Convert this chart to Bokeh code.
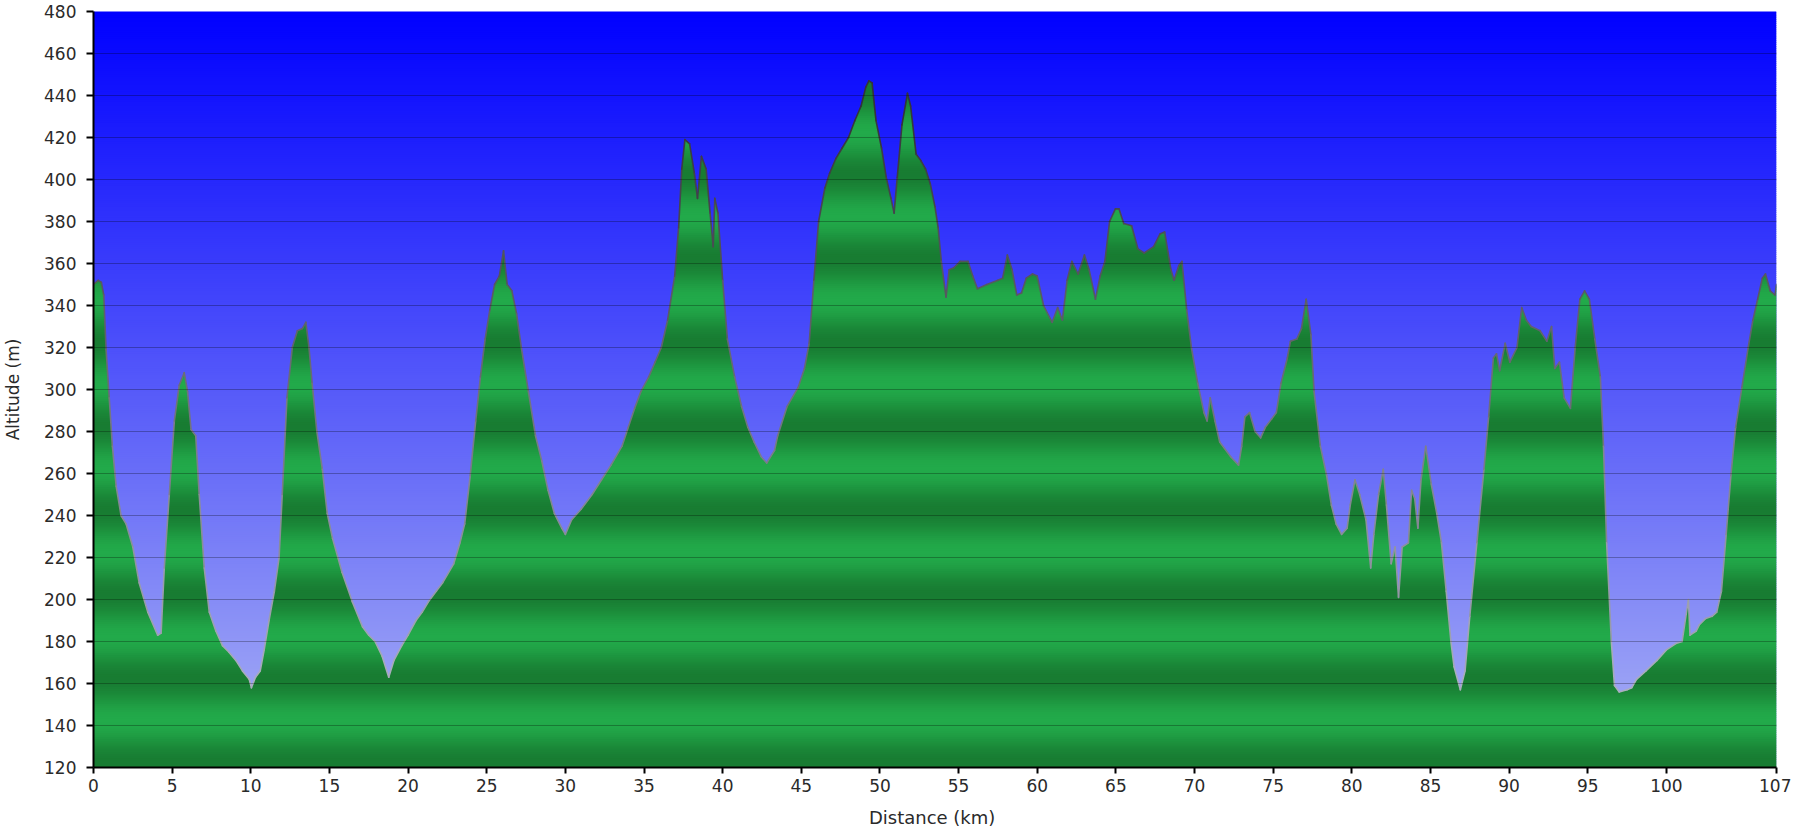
import math
from bokeh.plotting import figure
from bokeh.models import Range1d, FixedTicker
from bokeh.embed import file_html
from bokeh.resources import INLINE

# ---------------- data ----------------
distance_km = [
    0.0, 0.3, 0.5, 0.65, 0.8, 1.0, 1.2, 1.44, 1.75, 2.07, 2.5, 2.9, 3.45, 4.08, 4.3,
    4.5, 4.82, 5.14, 5.45, 5.77, 5.98, 6.2, 6.5, 6.72, 7.04, 7.36, 7.78, 8.2, 8.6,
    9.05, 9.47, 9.9, 10.04, 10.3, 10.6, 10.85, 11.16, 11.5, 11.8, 12.0, 12.3, 12.64,
    12.96, 13.28, 13.5, 13.7, 13.9, 14.2, 14.55, 14.86, 15.2, 15.8, 16.45, 17.1, 17.5,
    17.9, 18.35, 18.77, 19.1, 19.6, 20.0, 20.5, 20.9, 21.3, 21.8, 22.2, 22.9, 23.3,
    23.6, 23.95, 24.3, 24.6, 24.9, 25.2, 25.5, 25.8, 26.07, 26.3, 26.6, 26.9, 27.2,
    27.65, 28.1, 28.5, 28.9, 29.3, 29.77, 30.0, 30.4, 31.0, 31.7, 32.3, 32.9, 33.6,
    34.0, 34.4, 34.8, 35.3, 35.7, 36.1, 36.5, 36.95, 37.2, 37.4, 37.6, 37.9, 38.2,
    38.4, 38.65, 38.95, 39.2, 39.4, 39.5, 39.7, 40.0, 40.3, 40.76, 41.2, 41.6, 42.0,
    42.45, 42.8, 43.3, 43.5, 44.1, 44.8, 45.2, 45.5, 45.8, 46.1, 46.5, 46.8, 47.2,
    47.6, 48.0, 48.4, 48.8, 49.1, 49.3, 49.5, 49.75, 50.1, 50.4, 50.7, 50.9, 51.1,
    51.4, 51.75, 51.95, 52.3, 52.6, 52.9, 53.2, 53.5, 53.7, 53.9, 54.2, 54.4, 54.7,
    55.1, 55.6, 55.9, 56.2, 56.8, 57.5, 57.8, 58.1, 58.4, 58.7, 59.0, 59.3, 59.7,
    60.0, 60.4, 60.95, 61.3, 61.6, 61.9, 62.2, 62.6, 63.0, 63.3, 63.7, 64.0, 64.3,
    64.6, 64.97, 65.2, 65.5, 66.0, 66.4, 66.8, 67.4, 67.8, 68.1, 68.5, 68.7, 69.0,
    69.2, 69.5, 69.8, 70.2, 70.6, 70.8, 71.0, 71.3, 71.6, 72.3, 72.8, 73.0, 73.2,
    73.5, 73.85, 74.2, 74.5, 74.9, 75.2, 75.5, 75.9, 76.1, 76.5, 76.8, 77.1, 77.4,
    77.6, 78.0, 78.4, 78.7, 79.0, 79.35, 79.7, 79.9, 80.2, 80.5, 80.9, 81.2, 81.4,
    81.7, 82.0, 82.2, 82.5, 82.75, 82.97, 83.2, 83.6, 83.8, 84.0, 84.2, 84.4, 84.7,
    85.05, 85.4, 85.7, 86.0, 86.3, 86.5, 86.9, 87.2, 87.5, 87.95, 88.4, 88.7, 89.0,
    89.2, 89.4, 89.75, 90.05, 90.5, 90.8, 91.1, 91.4, 91.97, 92.4, 92.7, 92.9, 93.2,
    93.5, 93.9, 94.2, 94.5, 94.8, 95.1, 95.45, 95.8, 96.0, 96.2, 96.5, 96.7, 97.0,
    97.5, 97.8, 98.1, 98.7, 99.4, 100.0, 100.6, 101.0, 101.4, 101.5, 101.9, 102.1,
    102.5, 102.9, 103.2, 103.5, 103.8, 104.1, 104.4, 104.8, 105.2, 105.5, 105.8,
    106.1, 106.3, 106.6, 106.9, 107.0,
]
altitude_m = [
    350, 352, 351, 345, 319, 296, 273, 254, 240, 236, 225, 208, 194, 183, 184,
    215, 250, 285, 302, 308, 299, 281, 278, 250, 215, 194, 185, 178, 175,
    171, 166, 162, 158, 163, 166, 176, 190, 204, 220, 250, 296, 320,
    328, 329, 332, 320, 303, 280, 262, 241, 229, 213, 199, 187, 183,
    180, 173, 163, 171, 178, 183, 190, 194, 199, 204, 208, 217, 227,
    236, 259, 285, 306, 324, 338, 350, 354, 366, 350, 347, 336, 320,
    299, 278, 266, 252, 241, 234, 231, 238, 243, 250, 257, 264, 273,
    282, 291, 299, 306, 313, 320, 333, 354, 377, 405, 419, 417, 403,
    391, 411, 405, 384, 368, 391, 384, 352, 324, 306, 292, 282, 275,
    268, 265, 271, 278, 292, 301, 310, 322, 352, 380, 396, 403, 410,
    415, 420, 428, 435, 444, 447, 446, 428, 415, 401, 391, 384, 401,
    426, 441, 435, 412, 409, 405, 398, 387, 377, 361, 344, 357, 358,
    361, 361, 354, 348, 350, 352, 353, 364, 357, 345, 346, 353, 355,
    354, 340, 332, 339, 333, 352, 361, 355, 364, 357, 343, 354, 361,
    380, 386, 386, 379, 378, 367, 365, 368, 374, 375, 357, 352, 359,
    361, 338, 320, 303, 289, 285, 296, 285, 275, 268, 264, 273, 287,
    289, 280, 277, 282, 286, 289, 303, 315, 323, 324, 329, 343, 326,
    299, 273, 259, 245, 236, 231, 234, 245, 257, 250, 238, 215, 231,
    250, 262, 245, 217, 225, 201, 225, 227, 252, 248, 234, 257, 273,
    255, 241, 227, 204, 180, 168, 157, 166, 192, 227, 262, 287, 315,
    317, 309, 322, 313, 320, 339, 333, 330, 328, 323, 330, 310, 313,
    296, 291, 320, 343, 347, 343, 324, 306, 273, 227, 180, 159, 156,
    157, 158, 162, 166, 171, 176, 179, 180, 200, 183, 185, 188,
    191, 192, 194, 204, 231, 259, 282, 301, 320, 333, 343,
    353, 355, 347, 345, 350,
]
x_ticks = [0, 5, 10, 15, 20, 25, 30, 35, 40, 45, 50, 55, 60, 65, 70, 75, 80, 85, 90, 95, 100, 107]
y_ticks = [120, 140, 160, 180, 200, 220, 240, 260, 280, 300, 320, 340, 360, 380, 400, 420, 440, 460, 480]
x_label = "Distance  (km)"
y_label = "Altitude (m)"

# ---------------- styling helpers ----------------
FONT = "DejaVu Sans"
TXT = "#2a2a2a"
x0, x1 = x_ticks[0], x_ticks[-1]
y0, y1 = y_ticks[0], y_ticks[-1]


def hexcol(r, g, b):
    return "#%02x%02x%02x" % (int(round(r)), int(round(g)), int(round(b)))


def lerp_col(c0, c1, t):
    t = min(max(t, 0.0), 1.0)
    return hexcol(*[a + (b - a) * t for a, b in zip(c0, c1)])


def sky_color(a):
    return lerp_col((0, 0, 255), (172, 180, 244), (y1 - a) / (y1 - y0))


def green_color(a):
    w = (1 + math.cos(2 * math.pi * (a - 163) / 40.0)) / 2.0
    return lerp_col((34, 170, 74), (24, 124, 50), w)


def edge_color(a):
    return lerp_col((170, 174, 190), (52, 52, 58), (a - 160) / 270.0)


def clipped_top(xs, ys, lo, hi):
    """Profile clipped to [lo, hi], with the crossing points of the two levels added."""
    ox, oy = [], []
    for i in range(len(xs)):
        if i > 0:
            xa, ya, xb, yb = xs[i - 1], ys[i - 1], xs[i], ys[i]
            cr = []
            for lvl in (lo, hi):
                if (ya - lvl) * (yb - lvl) < 0:
                    t = (lvl - ya) / (yb - ya)
                    cr.append((xa + t * (xb - xa), lvl))
            cr.sort()
            for cx, cy in cr:
                ox.append(cx)
                oy.append(cy)
        ox.append(xs[i])
        oy.append(min(max(ys[i], lo), hi))
    return ox, oy


p = figure(
    frame_width=1683, frame_height=756,
    x_range=Range1d(x0, x1), y_range=Range1d(y0, y1),
    output_backend="svg", toolbar_location=None,
    min_border_left=86, min_border_right=15, min_border_top=11, min_border_bottom=65,
    background_fill_color="white", border_fill_color="white",
)
p.outline_line_color = None

# sky: vertical gradient made of thin horizontal bands
step = 1
bottoms = list(range(y0, y1, step))
p.quad(left=x0, right=x1, bottom=bottoms, top=[b + step + 0.6 for b in bottoms],
       fill_color=[sky_color(b + step / 2) for b in bottoms], line_color=None)

# terrain: banded green fill, cut into thin slabs clipped to the profile
top_alt = max(altitude_m)
pxs, pys, cols = [], [], []
a = y0
while a < top_alt:
    b = a + step
    lo = a - 0.6
    cx, cy = clipped_top(distance_km, altitude_m, lo, b)
    pxs.append(cx + cx[::-1])
    pys.append(cy + [lo] * len(cx))
    cols.append(green_color(a + step / 2))
    a = b
p.patches(pxs, pys, fill_color=cols, line_color=None)

# profile outline, darker at altitude
p.segment(x0=distance_km[:-1], y0=altitude_m[:-1], x1=distance_km[1:], y1=altitude_m[1:],
          line_color=[edge_color((u + v) / 2) for u, v in zip(altitude_m[:-1], altitude_m[1:])],
          line_width=1.6, line_cap="round")

# grid
p.xgrid.visible = False
p.ygrid.ticker = FixedTicker(ticks=y_ticks)
p.ygrid.grid_line_color = "black"
p.ygrid.grid_line_alpha = 0.28
p.ygrid.grid_line_width = 1
p.ygrid.level = "overlay"

# axes
p.xaxis.ticker = FixedTicker(ticks=x_ticks)
p.yaxis.ticker = FixedTicker(ticks=y_ticks)
for ax in (p.xaxis[0], p.yaxis[0]):
    ax.axis_line_color = "black"
    ax.axis_line_width = 2
    ax.major_tick_line_color = "black"
    ax.major_tick_line_width = 2
    ax.major_tick_in = 0
    ax.minor_tick_line_color = None
    ax.major_label_text_font = FONT
    ax.major_label_text_font_size = "17px"
    ax.major_label_text_color = TXT
    ax.axis_label_text_font = FONT
    ax.axis_label_text_font_style = "normal"
    ax.axis_label_text_color = TXT
p.xaxis.major_tick_out = 6
p.yaxis.major_tick_out = 7
p.xaxis.major_label_standoff = 5
p.yaxis.major_label_standoff = 10
p.xaxis.axis_label = x_label
p.yaxis.axis_label = y_label
p.xaxis.axis_label_text_font_size = "18px"
p.yaxis.axis_label_text_font_size = "17px"
p.xaxis.axis_label_standoff = 12
p.yaxis.axis_label_standoff = 18

open("out.html", "w").write(file_html(p, INLINE))
